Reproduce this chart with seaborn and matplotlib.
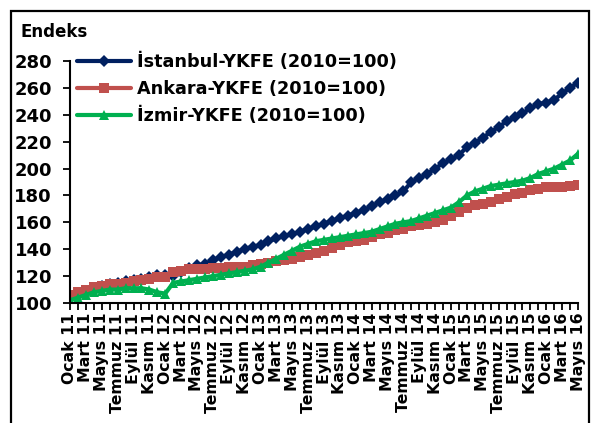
import numpy as np
import pandas as pd
import matplotlib
matplotlib.use("Agg")
import matplotlib.pyplot as plt
from matplotlib.patches import Rectangle
import seaborn as sns

# monthly index values, Ocak 2011 - Mayıs 2016 (2010=100)
istanbul = [104, 107, 109, 111, 113, 114, 115, 116, 117, 118, 119, 121, 121, 120, 123, 126,
            128, 129, 132, 134, 136, 138, 140, 142, 143, 146, 148, 150, 151, 153, 155, 157,
            159, 161, 163, 165, 167, 169, 172, 175, 177, 180, 183, 190, 193, 196, 200, 204,
            207, 210, 216, 219, 223, 227, 231, 235, 238, 241, 245, 248, 249, 251, 256, 260, 264]
ankara = [106, 108, 110, 112, 113, 114, 114, 115, 116, 117, 118, 119, 119, 123, 124, 125,
          125, 125, 126, 126, 127, 127, 127, 128, 129, 130, 131, 132, 133, 134, 136, 137,
          139, 141, 143, 145, 146, 147, 149, 151, 152, 154, 155, 157, 158, 159, 160, 162,
          165, 168, 171, 173, 174, 175, 177, 179, 181, 182, 184, 185, 186, 186, 186, 187, 188]
izmir = [102, 104, 106, 108, 109, 110, 110, 111, 111, 111, 110, 108, 107, 115, 116, 117,
         118, 119, 120, 121, 122, 123, 124, 125, 127, 130, 133, 136, 139, 142, 144, 146,
         147, 148, 149, 150, 151, 152, 153, 155, 157, 159, 160, 161, 163, 165, 167, 169,
         171, 175, 180, 183, 185, 187, 188, 189, 190, 191, 193, 196, 198, 200, 203, 206, 211]

series_names = ["İstanbul-YKFE (2010=100)", "Ankara-YKFE (2010=100)", "İzmir-YKFE (2010=100)"]
colors = ["#002060", "#C0504D", "#00B050"]
markers = ["D", "s", "^"]
months = ["Ocak", "Şubat", "Mart", "Nisan", "Mayıs", "Haziran",
          "Temmuz", "Ağustos", "Eylül", "Ekim", "Kasım", "Aralık"]
years = ["11", "12", "13", "14", "15", "16"]

labels = [f"{m} {y}" for y in years for m in months][:len(istanbul)]

df = pd.DataFrame({
    "t": np.tile(np.arange(len(istanbul)), 3),
    "value": istanbul + ankara + izmir,
    "series": np.repeat(series_names, len(istanbul)),
})

sns.set_style("white")
plt.rcParams["font.family"] = ["DejaVu Sans"]
plt.rcParams["font.weight"] = "bold"
plt.rcParams["text.color"] = "black"
plt.rcParams["xtick.color"] = "black"
plt.rcParams["ytick.color"] = "black"

fig = plt.figure(figsize=(5.93, 4.23), dpi=100)
ax = fig.add_axes([70 / 593, 1 - 303 / 423, 508 / 593, 242 / 423])

sizes = {"D": 6.5, "s": 6.5, "^": 7.5}
for name, c, m in zip(series_names, colors, markers):
    sns.lineplot(data=df[df["series"] == name], x="t", y="value", color=c,
                 marker=m, markersize=sizes[m], markeredgewidth=0, linewidth=3,
                 ax=ax, legend=False)

ax.set_xlim(0, len(istanbul) - 1)
ax.set_ylim(100, 280)
ax.set_yticks(range(100, 281, 20))
ax.set_xticks(range(len(istanbul)), minor=True)
ax.set_xticks(range(0, len(istanbul), 2))
ax.set_xticklabels(labels[::2], rotation=90, fontsize=11.3, fontweight="bold")
ax.tick_params(axis="y", labelsize=13, length=5, width=1.3, direction="out", left=True, pad=8)
ax.tick_params(axis="x", which="both", length=5, width=1.3, direction="out", bottom=True, pad=2)
ax.set_xlabel("")
ax.set_ylabel("")
for s in ["top", "right"]:
    ax.spines[s].set_visible(False)
for s in ["left", "bottom"]:
    ax.spines[s].set_color("black")
    ax.spines[s].set_linewidth(1.5)

ax.legend(ax.lines[:3], series_names, loc="upper left", bbox_to_anchor=(0.006, 1.048),
          frameon=False, handlelength=3.1, handletextpad=0.3, labelspacing=0.5,
          borderaxespad=0, borderpad=0.2, prop={"size": 12.7, "weight": "bold"})

fig.text(20 / 593, 1 - 32 / 423, "Endeks", fontsize=12, fontweight="bold", va="center")

fig.patches.append(Rectangle((11 / 593, -0.05), 578 / 593, 1.05 - 11 / 423,
                             transform=fig.transFigure, fill=False, lw=1.6, ec="black"))

fig.savefig("out.png", dpi=100)
